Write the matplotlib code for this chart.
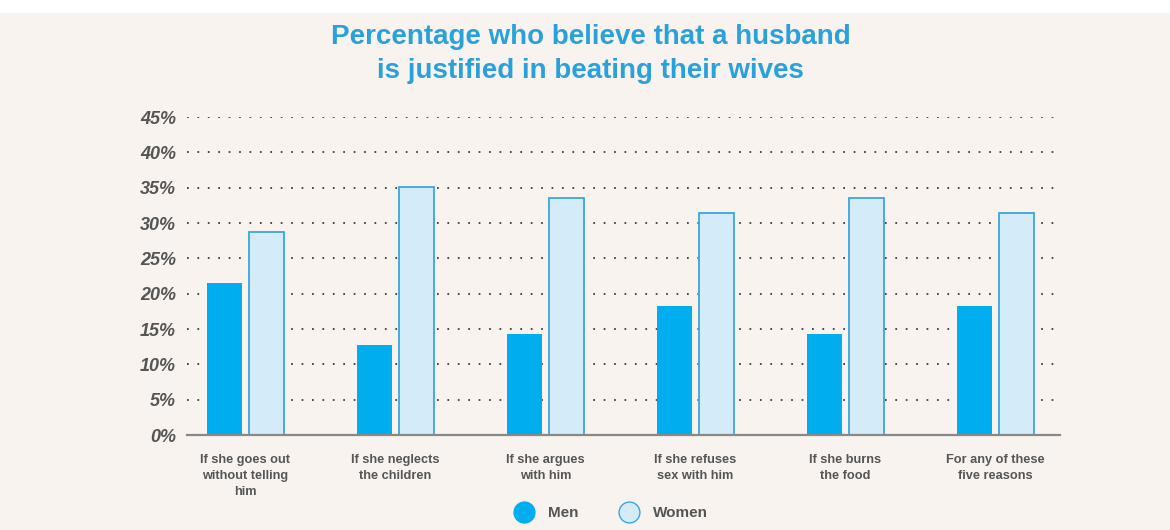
import matplotlib.pyplot as plt
import numpy as np
from matplotlib.patches import Rectangle
from matplotlib.lines import Line2D

categories = ['If she goes out\nwithout telling\nhim', 'If she neglects\nthe children',
              'If she argues\nwith him', 'If she refuses\nsex with him',
              'If she burns\nthe food', 'For any of these\nfive reasons']
men = [21.5, 12.7, 14.3, 18.2, 14.3, 18.2]
women = [28.7, 35.1, 33.5, 31.4, 33.5, 31.4]
yticks = [0, 5, 10, 15, 20, 25, 30, 35, 40, 45]

BG = '#F8F3EF'
MEN_C = '#00AEEF'
WOMEN_FILL = '#D4EBFA'
WOMEN_EDGE = '#3AA6E0'
GREY = '#555555'

plt.rcParams['font.family'] = ['Liberation Sans', 'DejaVu Sans']

fig = plt.figure(figsize=(11.7, 5.3), dpi=100, facecolor=BG)
fig.patches.append(Rectangle((0, 1 - 13 / 530), 1, 13 / 530, transform=fig.transFigure,
                             facecolor='white', edgecolor='none', zorder=0))

ax = fig.add_axes([187 / 1170, 95 / 530, (1060 - 187) / 1170, (435 - 117) / 530])
ax.set_facecolor(BG)

x = np.arange(len(categories))
w = 0.227
off = 0.14
ax.bar(x - off, men, w, color=MEN_C, zorder=3)
ax.bar(x + off, women, w, color=WOMEN_FILL, edgecolor=WOMEN_EDGE, linewidth=1.3, zorder=3)

ax.set_xlim(-0.39, 5.43)
ax.set_ylim(0, 45)
ax.set_yticks(yticks)
ax.set_yticklabels([f'{t}%' for t in yticks], fontsize=13, fontweight='bold',
                   fontstyle='italic', color=GREY)
ax.set_xticks(x)
ax.set_xticklabels(categories, fontsize=9.2, fontweight='bold', color=GREY, linespacing=1.4,
                   va='top')
ax.tick_params(axis='both', length=0)
ax.tick_params(axis='y', pad=8)
ax.tick_params(axis='x', pad=14)

ax.yaxis.grid(True, linestyle=(0, (1, 5)), color='#333333', linewidth=1.25, zorder=0)
ax.set_axisbelow(True)
for s in ['top', 'right', 'left']:
    ax.spines[s].set_visible(False)
ax.spines['bottom'].set_color('#888888')
ax.spines['bottom'].set_linewidth(1.6)
ax.spines['bottom'].set_zorder(4)

fig.text(0.505, 0.898, 'Percentage who believe that a husband\nis justified in beating their wives',
         ha='center', va='center', fontsize=20, fontweight='bold', color='#2AA1DB',
         linespacing=1.4)

handles = [Line2D([], [], marker='o', linestyle='none', markersize=15,
                  markerfacecolor=MEN_C, markeredgecolor=MEN_C, label='Men'),
           Line2D([], [], marker='o', linestyle='none', markersize=15,
                  markerfacecolor=WOMEN_FILL, markeredgecolor=WOMEN_EDGE, label='Women')]
leg = fig.legend(handles=handles, loc='center', bbox_to_anchor=(0.52, 0.032), ncol=2,
                 frameon=False, handletextpad=0.6, columnspacing=2.3,
                 prop={'weight': 'bold', 'size': 11})
for t in leg.get_texts():
    t.set_color(GREY)

fig.savefig('out.png', dpi=100, facecolor=BG)
